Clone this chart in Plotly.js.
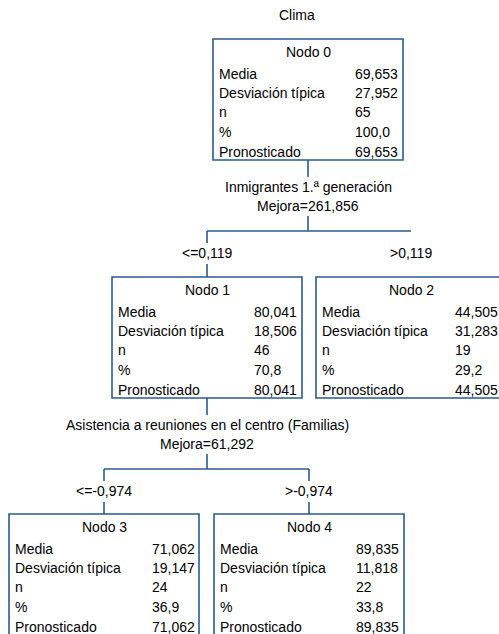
<!DOCTYPE html>
<html>
<head>
<meta charset="utf-8">
<script src="https://cdn.plot.ly/plotly-3.0.1.min.js"></script>
<style>html,body{margin:0;padding:0;background:#fff;}#chart{width:499px;height:634px;}</style>
</head>
<body>
<div id="chart"></div>
<script>
// ---- data ----
const title = "Clima";
const nodeNames = ["Nodo 0", "Nodo 1", "Nodo 2", "Nodo 3", "Nodo 4"];
const rowLabels = ["Media", "Desviación típica", "n", "%", "Pronosticado"];
const media = ["69,653", "80,041", "44,505", "71,062", "89,835"];
const desviacion = ["27,952", "18,506", "31,283", "19,147", "11,818"];
const nValues = ["65", "46", "19", "24", "22"];
const pctValues = ["100,0", "70,8", "29,2", "36,9", "33,8"];
const pronosticado = ["69,653", "80,041", "44,505", "71,062", "89,835"];
const splitVars = ["Inmigrantes 1.ª generación", "Asistencia a reuniones en el centro (Familias)"];
const splitGain = ["Mejora=261,856", "Mejora=61,292"];
const splitLeft = ["<=0,119", "<=-0,974"];
const splitRight = [">0,119", ">-0,974"];

// ---- layout geometry (pixels) ----
const W = 499, H = 634;
const BOX_W = 190, BOX_H = 121;
const boxLeft = [213, 112, 316, 9, 214];
const boxTop = [39, 277, 277, 514, 514];
const valueCol = [140, 140, 137, 141, 140];
const lineColor = "#2a5b8e";
const fontFam = "Liberation Sans, Arial, sans-serif";
const FS = 14;

const shapes = [];
const annotations = [];
function line(x0, y0, x1, y1) {
  shapes.push({type: "line", xref: "x", yref: "y", x0: x0, y0: y0, x1: x1, y1: y1,
    line: {color: lineColor, width: 1.6}});
}
function txt(x, y, t, anchor) {
  annotations.push({xref: "x", yref: "y", x: x, y: y, text: t, showarrow: false,
    xanchor: anchor || "center", yanchor: "middle", font: {family: fontFam, size: FS, color: "#000"}});
}

txt(297, 15, title);

const rowOff = [35, 54, 73, 93, 113];
for (let i = 0; i < nodeNames.length; i++) {
  const L = boxLeft[i], T = boxTop[i];
  shapes.push({type: "rect", xref: "x", yref: "y", x0: L, y0: T, x1: L + BOX_W, y1: T + BOX_H,
    line: {color: lineColor, width: 1.6}, fillcolor: "rgba(0,0,0,0)"});
  txt(L + BOX_W / 2, T + 13, nodeNames[i]);
  const vals = [media[i], desviacion[i], nValues[i], pctValues[i], pronosticado[i]];
  for (let r = 0; r < rowLabels.length; r++) {
    txt(L + 4, T + rowOff[r], rowLabels[r], "left");
    txt(L + valueCol[i], T + rowOff[r], vals[r], "left");
  }
}

function split(k, parent, left, right, showRightStubs) {
  const px = boxLeft[parent] + BOX_W / 2;
  const pb = boxTop[parent] + BOX_H;
  const lx = boxLeft[left] + BOX_W / 2;
  const rx = boxLeft[right] + BOX_W / 2;
  const ct = boxTop[left];
  line(px, pb, px, pb + 17);
  txt(px, pb + 27, splitVars[k]);
  txt(px, pb + 46, splitGain[k]);
  const hy = pb + 71;
  line(px, pb + 56, px, hy);
  line(lx, hy, rx, hy);
  line(lx, hy, lx, hy + 12);
  line(lx, hy + 33, lx, ct);
  if (showRightStubs) {
    line(rx, hy, rx, hy + 12);
    line(rx, hy + 33, rx, ct);
  }
  txt(lx, hy + 22, splitLeft[k]);
  txt(rx, hy + 22, splitRight[k]);
}
split(0, 0, 1, 2, false);
split(1, 1, 3, 4, true);

const layout = {
  width: W, height: H,
  margin: {l: 0, r: 0, t: 0, b: 0},
  paper_bgcolor: "#fff", plot_bgcolor: "#fff",
  xaxis: {range: [0, W], visible: false, fixedrange: true},
  yaxis: {range: [H, 0], visible: false, fixedrange: true},
  shapes: shapes, annotations: annotations, showlegend: false
};
Plotly.newPlot("chart", [{x: [], y: [], type: "scatter", hoverinfo: "skip"}], layout, {staticPlot: true});
</script>
</body>
</html>
